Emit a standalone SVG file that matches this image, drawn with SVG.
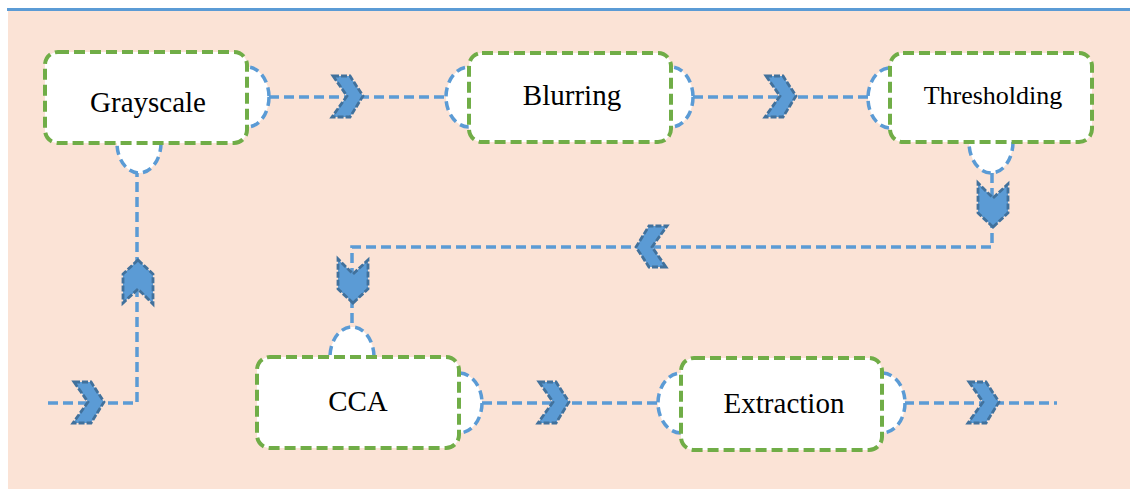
<svg xmlns="http://www.w3.org/2000/svg" width="1130" height="489" viewBox="0 0 1130 489">
  <style>
    .node rect { fill: #ffffff; stroke: #70AD47; stroke-width: 4; stroke-dasharray: 11 5; }
    .port { fill: #ffffff; stroke: #5B9BD5; stroke-width: 3.5; stroke-dasharray: 9 5; }
    .label { font-family: "Liberation Serif", "Times New Roman", serif; font-size: 29px; fill: #000000; text-anchor: middle; }
    .link { fill: none; stroke: #5B9BD5; stroke-width: 3.5; stroke-dasharray: 10 5; }
    .chev { fill: #5B9BD5; stroke: #41719C; stroke-width: 2.8; stroke-dasharray: 6 2; stroke-linejoin: miter; }
  </style>
  <defs>
    <!-- chevron pointing right, tip at origin -->
    <polygon id="chevH" points="-30,-20 -13,-20 0,0 -13,21 -31,21 -16,0"/>
    <!-- notched arrow pointing down, tip at origin -->
    <polygon id="chevV" points="0,0 15,-14 15,-43 0,-29 -15,-44 -15,-14"/>
  </defs>

  <!-- background panel -->
  <rect x="8" y="10" width="1122" height="479" fill="#FBE3D6"/>
  <rect x="7" y="8" width="1123" height="3" fill="#5B9BD5"/>

  <!-- connectors -->
  <g id="connectors">
    <path class="link" d="M48 403 H137 V173"/>
    <path class="link" d="M269 97 H447"/>
    <path class="link" d="M693 97 H868"/>
    <path class="link" d="M992 173 V247 H352 V327"/>
    <path class="link" d="M482 403 H658"/>
    <path class="link" d="M904 403 H1057"/>
    <use href="#chevH" class="chev" transform="translate(104 402)"/>
    <use href="#chevV" class="chev" transform="translate(138 260) rotate(180)"/>
    <use href="#chevH" class="chev" transform="translate(363 96)"/>
    <use href="#chevH" class="chev" transform="translate(796 96)"/>
    <use href="#chevV" class="chev" transform="translate(993 227)"/>
    <use href="#chevH" class="chev" transform="translate(636 247) rotate(180)"/>
    <use href="#chevV" class="chev" transform="translate(353 303)"/>
    <use href="#chevH" class="chev" transform="translate(569 402)"/>
    <use href="#chevH" class="chev" transform="translate(999 402)"/>
  </g>

  <g id="grayscale" class="node">
    <ellipse class="port" cx="247" cy="97" rx="22" ry="30"/>
    <ellipse class="port" cx="139" cy="143" rx="22" ry="30"/>
    <rect x="45" y="52" width="202" height="91" rx="13"/>
    <text class="label" x="148" y="112">Grayscale</text>
  </g>

  <g id="blurring" class="node">
    <ellipse class="port" cx="469" cy="97" rx="23" ry="30"/>
    <ellipse class="port" cx="671" cy="97" rx="22" ry="30"/>
    <rect x="469" y="53" width="202" height="89" rx="13"/>
    <text class="label" x="572" y="105">Blurring</text>
  </g>

  <g id="thresholding" class="node">
    <ellipse class="port" cx="890" cy="98" rx="22" ry="30"/>
    <ellipse class="port" cx="991" cy="142" rx="22" ry="31"/>
    <rect x="890" y="53" width="202" height="89" rx="13"/>
    <text class="label" x="993" y="104" style="font-size:26px">Thresholding</text>
  </g>

  <g id="cca" class="node">
    <ellipse class="port" cx="352" cy="357" rx="22" ry="30"/>
    <ellipse class="port" cx="459" cy="403" rx="23" ry="30"/>
    <rect x="257" y="357" width="202" height="91" rx="13"/>
    <text class="label" x="358" y="411">CCA</text>
  </g>

  <g id="extraction" class="node">
    <ellipse class="port" cx="681" cy="403" rx="23" ry="30"/>
    <ellipse class="port" cx="882" cy="403" rx="23" ry="30"/>
    <rect x="681" y="358" width="201" height="92" rx="13"/>
    <text class="label" x="784" y="413">Extraction</text>
  </g>
</svg>
